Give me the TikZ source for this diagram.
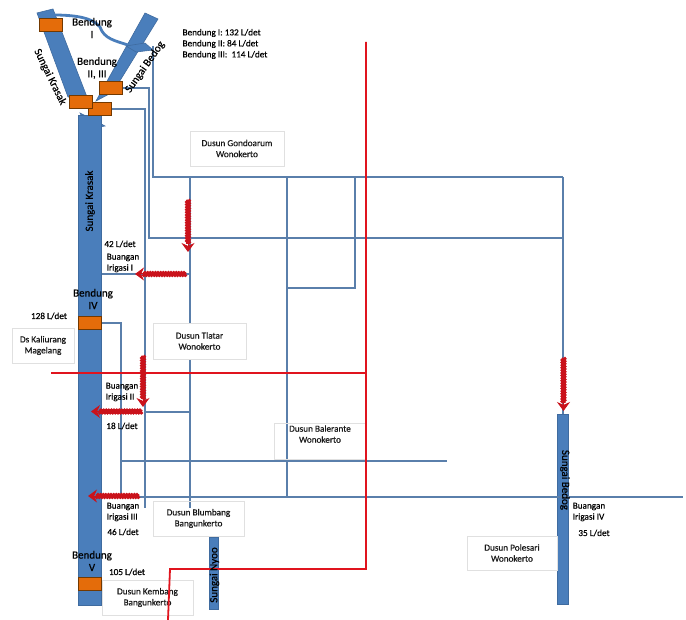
\documentclass[tikz,border=0pt]{standalone}
\usepackage{fontspec}
\setmainfont[RawFeature={embolden=0.5}]{Carlito}
\usetikzlibrary{arrows.meta,decorations.pathmorphing}
\definecolor{riverblue}{HTML}{4A7EBB}
\definecolor{canalblue}{HTML}{5A7FAB}
\definecolor{damorange}{HTML}{E46C0A}
\definecolor{roadred}{HTML}{E0141E}
\begin{document}
\begin{tikzpicture}[
    x=1pt,y=-1pt,
    river/.style   ={draw=riverblue!85!black,fill=riverblue,line width=.6pt},
    riverbar/.style={river,inner sep=0pt,minimum width=#1,anchor=north west},
    dam/.style     ={draw=black!55!orange,fill=damorange,line width=1pt,inner sep=0pt,
                     minimum width=23pt,minimum height=13pt},
    canal/.style   ={draw=canalblue,line width=2pt},
    road/.style    ={draw=roadred,line width=1.8pt},
    flow/.style    ={draw=roadred!90!black,line width=4pt,
                     decorate,decoration={zigzag,amplitude=.6pt,segment length=2.6pt}},
    flowtip/.style ={-{Stealth[length=9pt,width=13pt]},draw=roadred!90!black,line width=1pt},
    village/.style ={draw=black!12,fill=white,inner sep=0pt,align=center,text=black!90,
                     font=\fontsize{9.2}{11}\selectfont},
    note/.style    ={text=black,inner sep=0pt,align=center,font=\fontsize{9.2}{11}\selectfont},
    damnote/.style ={note,font=\fontsize{11}{12.5}\selectfont},
    rivername/.style={note,font=\fontsize{11}{12}\selectfont}
]
\useasboundingbox[fill=white] (0,0) rectangle (686,620);

% rivers
\fill[river] (37,13) -- (53,9) -- (87,97) -- (68,97) -- cycle;
\fill[river] (145,13) -- (158,19) -- (113,92) -- (96,101) -- cycle;
\draw[riverblue,line width=2.8pt] (53,15) .. controls (73,15) and (92,17) .. (100,27)
    .. controls (104,39) and (116,41) .. (128,45);
\fill[river] (126,46) -- (145,43) -- (153,50) -- (136,52) -- cycle;
\fill[river] (80,113) -- (105,126) -- (88,129) -- cycle;
\node[riverbar=23pt,minimum height=490pt] (kiasak) at (78,115) {};
\node[riverbar=11pt,minimum height=190pt] (bedog)  at (557,414) {};
\node[riverbar=9pt,minimum height=72pt]   (nyoo)   at (209,537) {};

% canals
\coordinate (c1) at (153,46);  \coordinate (c2) at (153,177); \coordinate (c3) at (563,177);
\coordinate (c4) at (190.3,177); \coordinate (c5) at (190.3,508); \coordinate (c6) at (287,177);
\coordinate (c7) at (287,498); \coordinate (c8) at (149,238); \coordinate (c9) at (563,238);
\coordinate (c10) at (144.6,508); \coordinate (c11) at (190.3,274);
\coordinate (c12) at (120.6,497); \coordinate (c13) at (447,461); \coordinate (c14) at (683,497);
\coordinate (c15) at (144.6,412); \coordinate (c16) at (190.3,412); \coordinate (c17) at (355,177);
\coordinate (c18) at (287,288); \coordinate (c19) at (120.6,461); \coordinate (c20) at (139,497);

\node[dam] (bendungI)   at (51,25)    {};
\node[dam] (bendungII)  at (110.5,88.5) {};
\node[dam] (bendungIII) at (100,109.5) {};
\node[dam] (krasakdam)  at (80.5,102) {};
\node[dam] (bendungIV)  at (90,323.5) {};
\node[dam] (bendungV)   at (90,584)   {};

\draw[canal] (c1) -- (c2) -- (c3);
\draw[canal] (c4) -- (c5);
\draw[canal] (c6) -- (c7);
\draw[canal] (bendungII.east) -| (c8) -- (c9);
\draw[canal] (bendungIII.east) -| (c10);
\draw[canal] (kiasak.east |- c11) -- (c11);
\draw[canal] (bendungIV.east) -| (c12);
\draw[canal] (c19) -- (c13);
\draw[canal] (c20) -- (c14);
\draw[canal] (c15) -- (c16);
\draw[canal] (c18) -| (c17);
\draw[canal] (c3) -- (bedog.north -| c3);

% road
\coordinate (r1) at (366,42);  \coordinate (r2) at (366,569); \coordinate (r3) at (170,569);
\coordinate (r4) at (168,620); \coordinate (r5) at (51,373);  \coordinate (r6) at (366,373);

% villages
\node[village,minimum width=94pt,minimum height=35pt] (gondoarum) at (237,148.5)
    {Dusun Gondoarum\\Wonokerto};
\node[village,minimum width=93pt,minimum height=36pt] (tlatar) at (199.5,341)
    {Dusun Tlatar\\Wonokerto};
\node[village,minimum width=62pt,minimum height=35pt] (kaliurang) at (43,345.5)
    {Ds Kaliurang\\Magelang};
\node[village,fill=none,minimum width=91pt,minimum height=35pt] (blumbang) at (198.5,518.5)
    {Dusun Blumbang\\Bangunkerto};
\node[village,fill=none,minimum width=91pt,minimum height=35pt] (kembang) at (147.5,597.5)
    {Dusun Kembang\\Bangunkerto};
\node[village,fill=none,minimum width=92pt,minimum height=36pt] (balerante) at (320,441)
    {Dusun Balerante\\Wonokerto\\[3pt]};
\node[village,minimum width=90pt,minimum height=34pt] (polesari) at (512,553)
    {Dusun Polesari\\Wonokerto};

\draw[road] (r1) -- (r2) -- (r3) -- (r4);
\draw[road] (r5) -- (r6);

% flows
\coordinate (f1a) at (188,200); \coordinate (f1b) at (188,244); \coordinate (f1c) at (188,252);
\coordinate (f2a) at (186,274); \coordinate (f2b) at (143,274); \coordinate (f2c) at (135,274);
\coordinate (f3a) at (143,356); \coordinate (f3b) at (143,399); \coordinate (f3c) at (143,407);
\coordinate (f4a) at (142,411.5); \coordinate (f4b) at (99,411.5); \coordinate (f4c) at (91,411.5);
\coordinate (f5a) at (139,496); \coordinate (f5b) at (96,496); \coordinate (f5c) at (88,496);
\coordinate (f6a) at (563.5,358); \coordinate (f6b) at (563.5,403); \coordinate (f6c) at (563.5,411);
\foreach \a/\b/\c in {f1a/f1b/f1c,f2a/f2b/f2c,f3a/f3b/f3c,f4a/f4b/f4c,f5a/f5b/f5c,f6a/f6b/f6c}{
    \draw[flow] (\a) -- (\b);
    \draw[flowtip] (\b) -- (\c);
}

% labels
\node[damnote] (labelI)   at (92,28)  {Bendung\\I};
\node[damnote] (labelII)  at (97,68)  {Bendung\\II, III};
\node[damnote] (labelIV)  at (93,299) {Bendung\\IV};
\node[damnote] (labelV)   at (92,561) {Bendung\\V};
\node[note,align=left] (debit) at (225,44)
    {Bendung I:~132 L/det\\Bendung II:~84 L/det\\Bendung III:~~114 L/det};
\node[note] (q42)   at (120,244) {42 L/det};
\node[note] (q128)  at (49,316)  {128 L/det};
\node[note] (q18)   at (122,426) {18 L/det};
\node[note] (q46)   at (123,532) {46 L/det};
\node[note] (q105)  at (127,572) {105 L/det};
\node[note] (q35)   at (594,533) {35 L/det};
\node[note,align=left] (buangI)   at (123,263) {Buangan\\Irigasi I};
\node[note,align=left] (buangII)  at (122,392) {Buangan\\Irigasi II};
\node[note,align=left] (buangIII) at (123,512) {Buangan\\Irigasi III};
\node[note,align=left] (buangIV)  at (589,512) {Buangan\\Irigasi IV};
\node[rivername,rotate=-64] (krasakup) at (50,77) {Sungai Krasak};
\node[rivername,rotate=55]  (bedogup)  at (145,67) {Sungai Bedog};
\node[rivername,rotate=90] (krasaklabel) at (90,201) {Sungai Krasak};
\node[rivername,rotate=90] (nyoolabel) at (214.5,575) {Sungai Nyoo};
\node[rivername,rotate=-90] (bedoglabel) at (565,480) {Sungai Bedog};
\end{tikzpicture}
\end{document}
